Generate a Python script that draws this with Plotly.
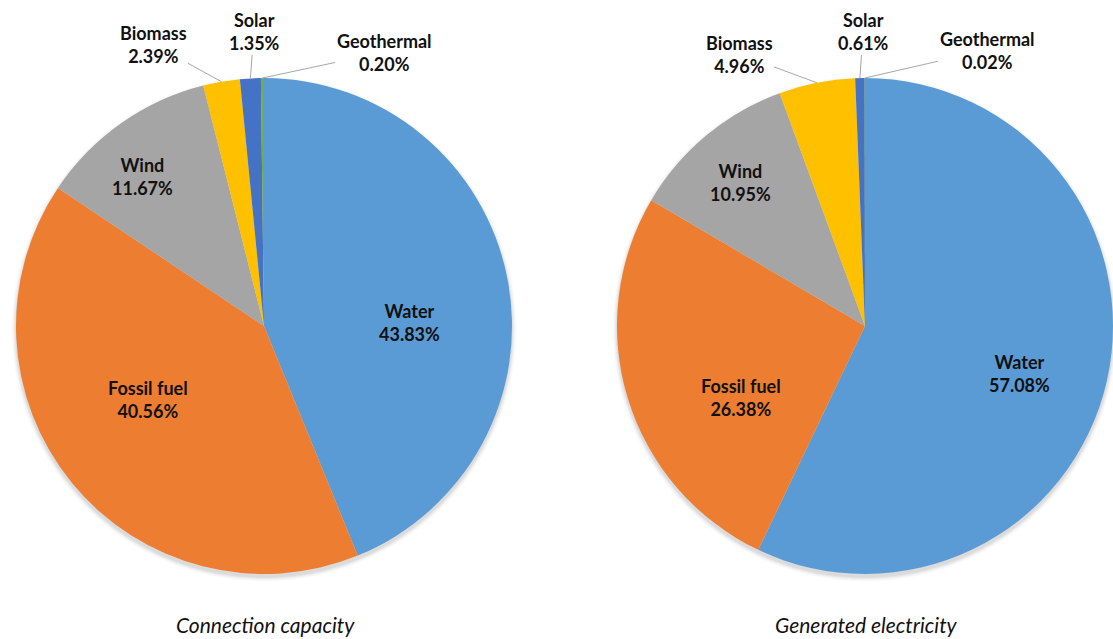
import math
import plotly.graph_objects as go

# Share of each source (%), clockwise from 12 o'clock
categories = ["Water", "Fossil fuel", "Wind", "Biomass", "Solar", "Geothermal"]
capacity_share = [43.83, 40.56, 11.67, 2.39, 1.35, 0.20]
generation_share = [57.08, 26.38, 10.95, 4.96, 0.61, 0.02]
panel_titles = ["Connection capacity", "Generated electricity"]

colors = ["#5B9BD5", "#ED7D31", "#A5A5A5", "#FFC000", "#4472C4", "#70AD47"]

W, H = 1113, 639
R = 248
centers = [(264, 326), (865, 326)]

# label placement for the big slices: (radius fraction, angle nudge in degrees)
inside_place = [
    [(0.586, 9.9), (0.554, 6.9), (0.775, -3.9)],
    [(0.651, 4.5), (0.579, -13.0), (0.766, -1.2)],
]
# callout text offsets (px from pie centre) for the thin slices
outside_place = [
    [(-111, -282), (-10, -295), (120, -274)],
    [(-126, -272), (-2, -295), (122, -276)],
]

LABEL_FONT = dict(family="Lato", size=18, color="#111111")
TITLE_FONT = dict(family="Lato", size=21, color="#111111")


def px(x, y):
    return x / W, 1 - y / H


def polar(cx, cy, r, deg):
    t = math.radians(deg)
    return cx + r * math.sin(t), cy - r * math.cos(t)


fig = go.Figure()
shapes = []
annotations = []

for k, values in enumerate([capacity_share, generation_share]):
    cx, cy = centers[k]

    # soft drop shadow under the disc
    for i, op in enumerate([0.10, 0.08, 0.06, 0.04, 0.03]):
        rr = R + 0.5 + i
        x0, y1 = px(cx - rr, cy + 3 - rr)
        x1, y0 = px(cx + rr, cy + 3 + rr)
        shapes.append(dict(type="circle", xref="paper", yref="paper",
                           x0=x0, y0=y0, x1=x1, y1=y1, layer="below",
                           fillcolor="#7f7f7f", opacity=op, line=dict(width=0)))

    dx0, dy1 = px(cx - R, cy - R)
    dx1, dy0 = px(cx + R, cy + R)
    fig.add_trace(go.Pie(
        labels=categories, values=values, sort=False, direction="clockwise",
        rotation=0, textinfo="none", showlegend=False, hole=0,
        marker=dict(colors=colors, line=dict(width=0)),
        domain=dict(x=[dx0, min(dx1, 1)], y=[dy0, dy1]),
        hovertemplate="%{label}: %{value:.2f}%<extra></extra>",
    ))

    cum = 0.0
    mids = []
    for v in values:
        mids.append((cum + v / 2) / 100 * 360)
        cum += v

    for i, v in enumerate(values):
        text = f"<b>{categories[i]}<br>{v:.2f}%</b>"
        if i < 3:
            frac, nudge = inside_place[k][i]
            lx, ly = polar(cx, cy, frac * R, mids[i] + nudge)
            ax_, ay_ = px(lx, ly)
            annotations.append(dict(x=ax_, y=ay_, xref="paper", yref="paper",
                                    xanchor="center", yanchor="middle",
                                    text=text, showarrow=False, font=LABEL_FONT,
                                    align="center"))
        else:
            tx, ty = polar(cx, cy, R, mids[i])
            ox, oy = outside_place[k][i - 3]
            lx, ly = cx + ox, cy + oy
            px_, py_ = px(tx, ty)
            annotations.append(dict(x=px_, y=py_, xref="paper", yref="paper",
                                    text=text, showarrow=True, arrowhead=0,
                                    arrowwidth=1, arrowcolor="#A6A6A6",
                                    ax=lx - tx, ay=ly - ty, standoff=0,
                                    font=LABEL_FONT, align="center"))

    tx, ty = px(cx + 1, 624)
    annotations.append(dict(x=tx, y=ty, xref="paper", yref="paper",
                            xanchor="center", yanchor="middle",
                            text=f"<i>{panel_titles[k]}</i>", showarrow=False,
                            font=TITLE_FONT))

fig.update_layout(
    width=W, height=H,
    margin=dict(l=0, r=0, t=0, b=0),
    paper_bgcolor="white", plot_bgcolor="white",
    shapes=shapes, annotations=annotations,
)

fig.write_html("out.html")
